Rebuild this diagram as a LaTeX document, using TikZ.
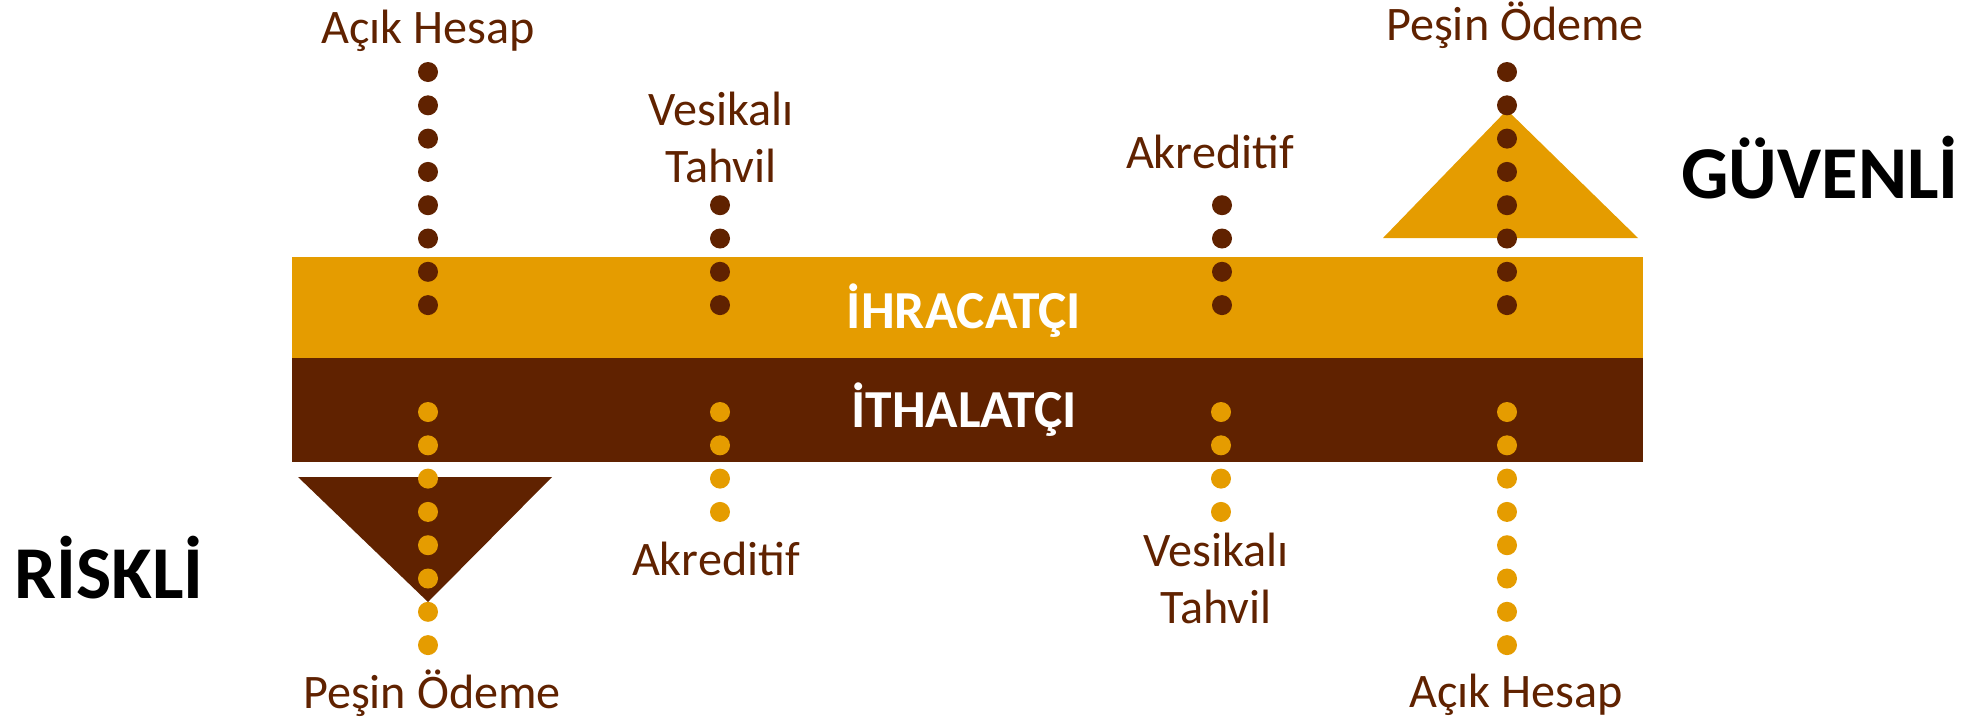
\documentclass[tikz,border=0pt]{standalone}
\usepackage{fontspec}
\setmainfont{Carlito}
\definecolor{orng}{RGB}{229,156,0}
\definecolor{brwn}{RGB}{96,34,0}
\begin{document}
\begin{tikzpicture}[x=0.01cm,y=-0.01cm,
  lbl/.style={font=\fontsize{13.7}{16.2}\selectfont, text=brwn, anchor=base, inner sep=0, align=center},
  big/.style={font=\bfseries\fontsize{21.2}{25}\selectfont, anchor=base, inner sep=0},
  bandtxt/.style={font=\bfseries\fontsize{15.2}{18}\selectfont, text=white, anchor=base, inner sep=0},
  ddot/.style={fill=brwn}, odot/.style={fill=orng}]
\useasboundingbox (0,0) rectangle (1972,724);
% bands
\fill[orng] (292,257) rectangle (1643,358);
\fill[brwn] (292,358) rectangle (1643,462);
% triangles
\fill[orng] (1507,110) -- (1638,238) -- (1383,238) -- cycle;
\fill[brwn] (298,477) -- (552,477) -- (428,602) -- cycle;
% band labels
\node[bandtxt] (ihr) at (964,328) {İHRACATÇI};
\node[bandtxt] (ith) at (964,427) {İTHALATÇI};
% dot columns
\foreach \i in {0,...,7} {
  \fill[ddot] (428,{72+\i*33.3}) circle (10);
  \fill[ddot] (1507,{72+\i*33.3}) circle (10);
  \fill[odot] (428,{412+\i*33.3}) circle (10);
  \fill[odot] (1507,{412+\i*33.3}) circle (10);
}
\foreach \i in {4,...,7} {
  \fill[ddot] (720,{72+\i*33.3}) circle (10);
  \fill[ddot] (1222,{72+\i*33.3}) circle (10);
}
\foreach \i in {0,...,3} {
  \fill[odot] (720,{412+\i*33.3}) circle (10);
  \fill[odot] (1221,{412+\i*33.3}) circle (10);
}
% top labels
\node[lbl] (t1) at (428,43) {Açık Hesap};
\node[lbl] (t2) at (721,182) {Vesikalı\\Tahvil};
\node[lbl] (t3) at (1210,168) {Akreditif};
\node[lbl] (t4) at (1515,40) {Peşin Ödeme};
% bottom labels
\node[lbl] (b1) at (432,708) {Peşin Ödeme};
\node[lbl] (b2) at (716,575) {Akreditif};
\node[lbl] (b3) at (1216,623) {Vesikalı\\Tahvil};
\node[lbl] (b4) at (1516,707) {Açık Hesap};
% side labels
\node[big] (guv) at (1820,198) {GÜVENLİ};
\node[big] (risk) at (109,598) {RİSKLİ};
\end{tikzpicture}
\end{document}
